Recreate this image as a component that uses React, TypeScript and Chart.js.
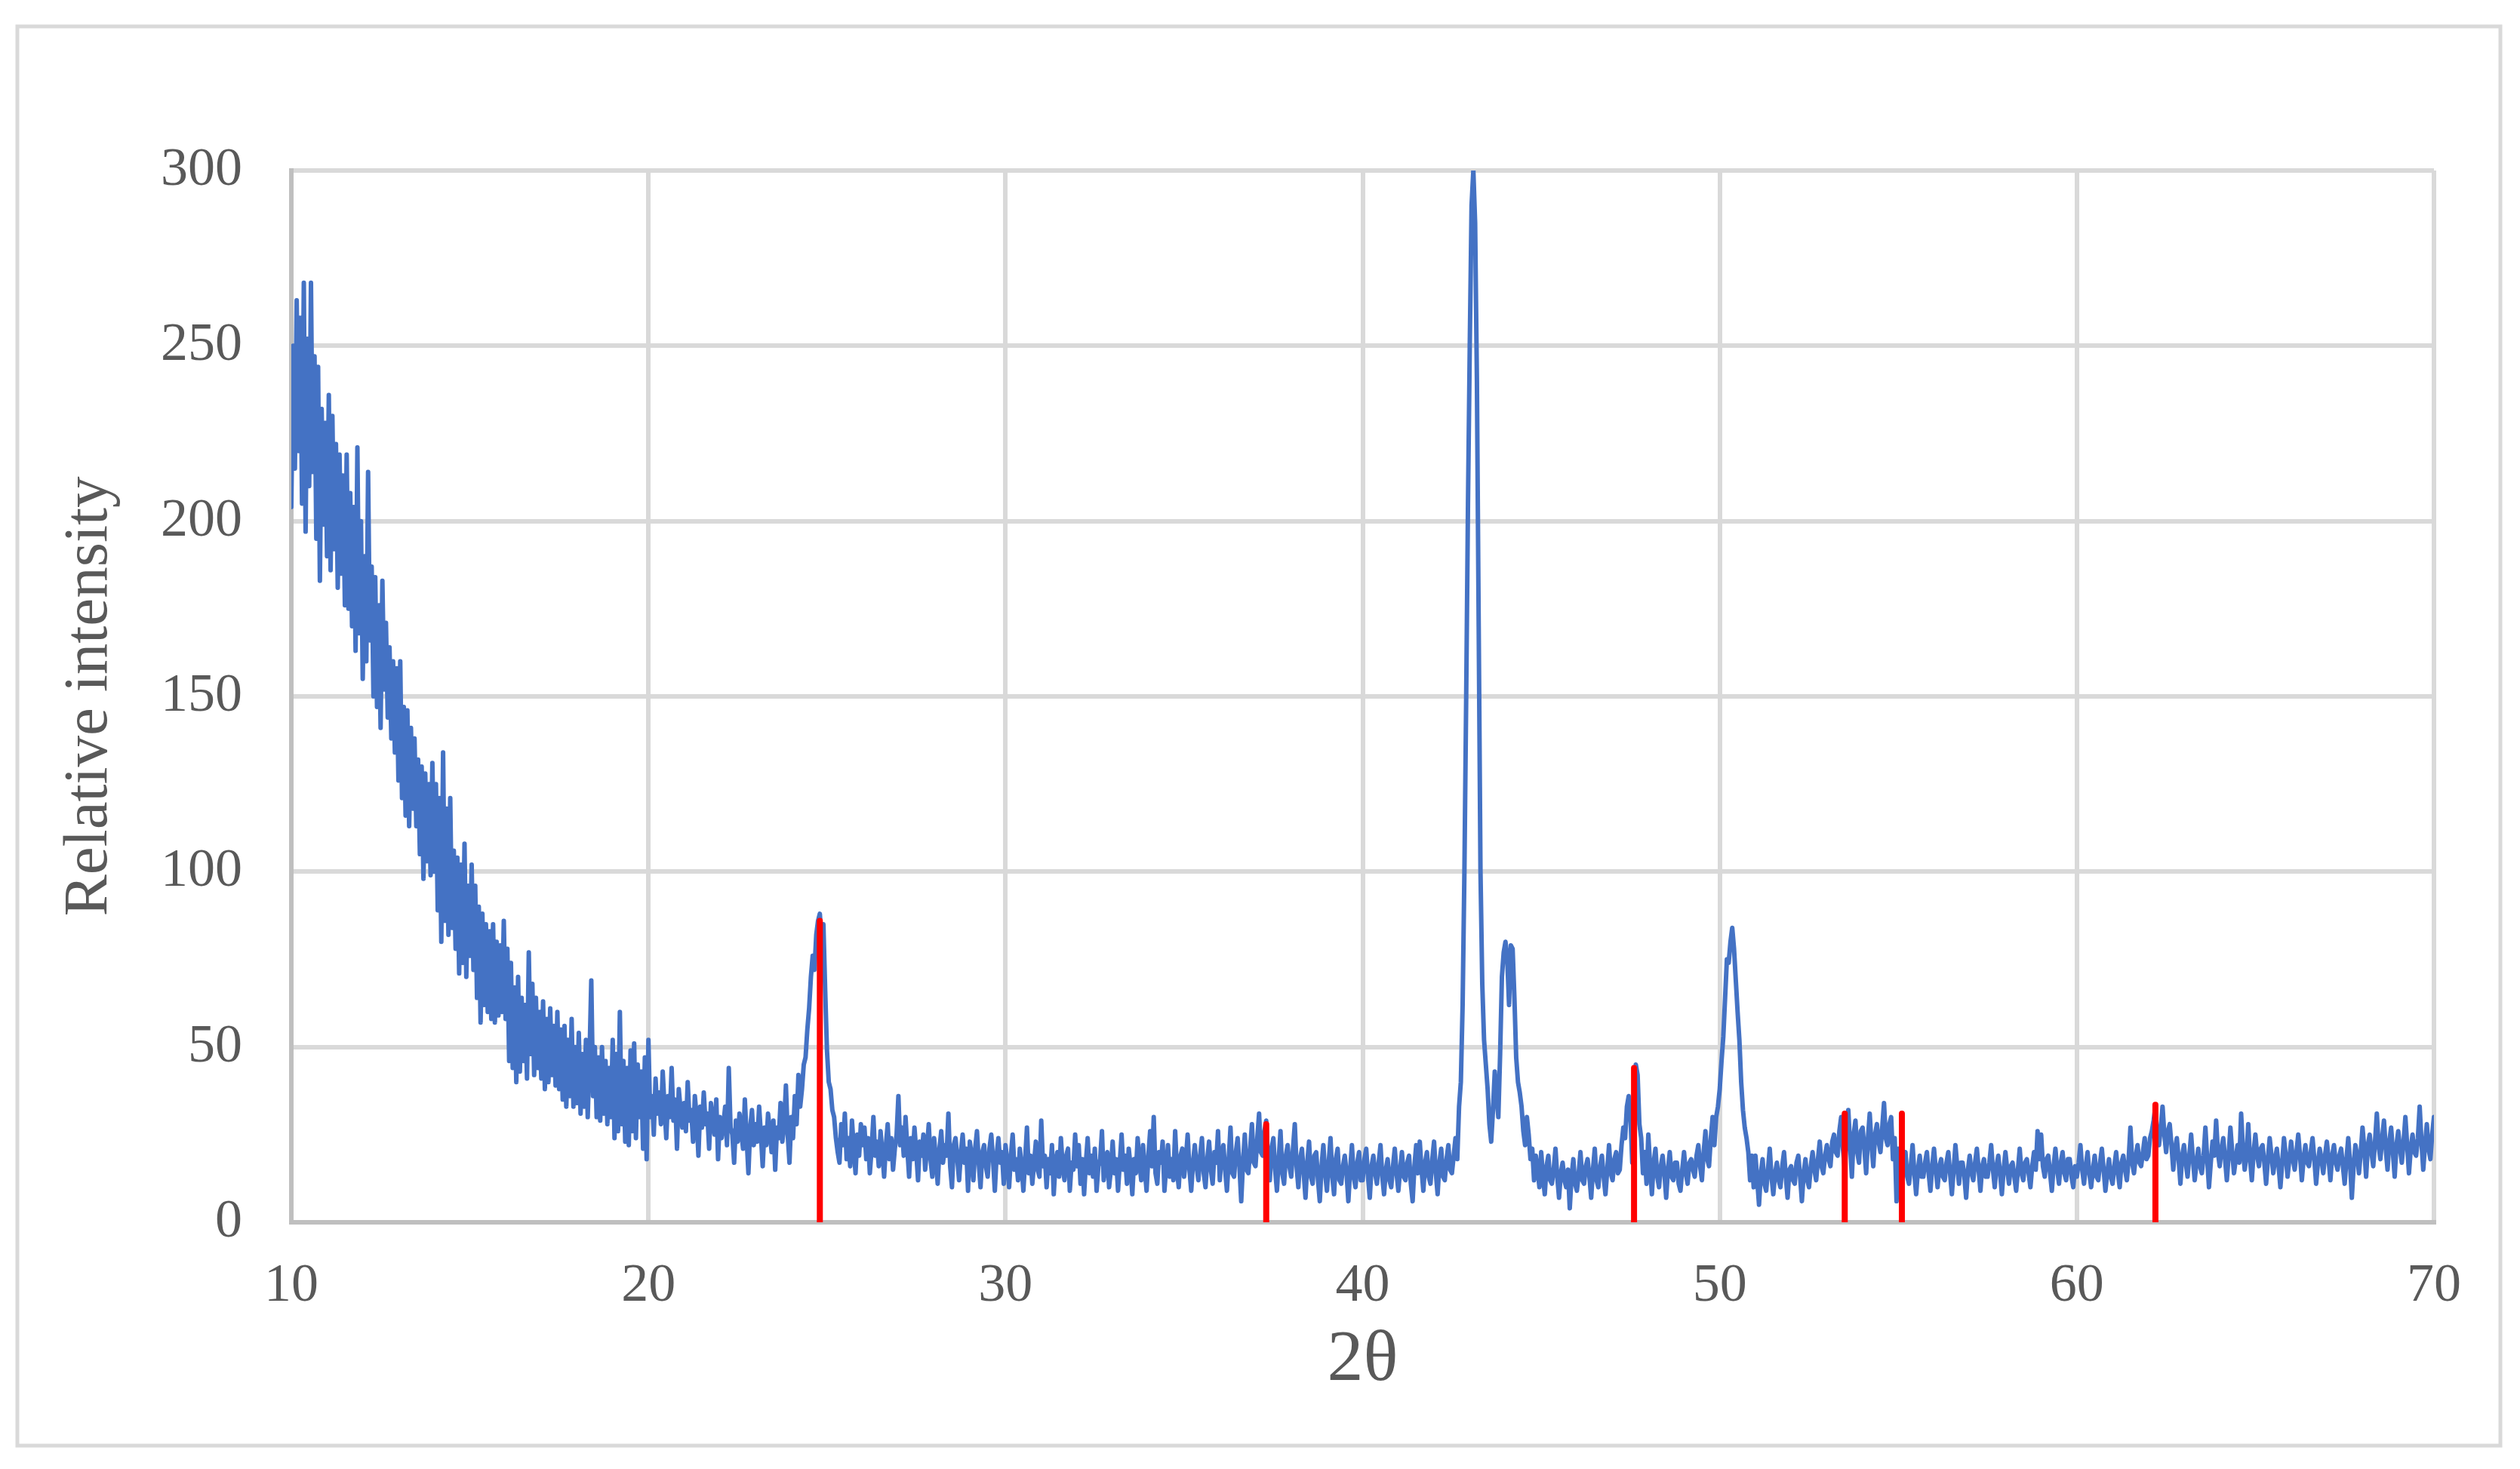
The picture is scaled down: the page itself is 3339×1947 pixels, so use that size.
import React, { useEffect, useRef } from "react";
import { Chart, registerables } from "chart.js";

Chart.register(...registerables);

// 2θ sampling of the pattern
const X_START = 10;
const X_STEP = 0.05;

// Relative intensity, 10.00 – 19.95
const seg10to20 = [
  204, 250, 215, 263, 220, 258, 205, 268, 197, 252, 210, 268, 214, 247, 195, 244, 183, 232, 199, 228,
  190, 236, 186, 230, 192, 222, 181, 219, 185, 213, 176, 219, 175, 208, 170, 204, 163, 221, 168, 200,
  155, 190, 160, 214, 166, 187, 150, 184, 147, 176, 141, 183, 152, 171, 144, 164, 138, 160, 134, 158,
  126, 160, 121, 147, 116, 146, 113, 141, 118, 138, 113, 132, 105, 130, 98, 128, 103, 125, 99, 131,
  100, 125, 89, 121, 80, 134, 86, 118, 82, 121, 84, 106, 78, 104, 71, 102, 74, 108, 70, 96,
  76, 102, 72, 96, 64, 90, 57, 88, 62, 85, 60, 83, 58, 85, 57, 80, 59, 79, 60, 86,
  58, 78, 46, 74, 44, 67, 40, 70, 43, 64, 46, 62, 41, 77, 48, 68, 42, 64, 44, 60,
  41, 63, 38, 58, 40, 61, 42, 56, 39, 60, 38, 55, 35, 56, 33, 52, 36, 58, 33, 50,
  34, 54, 31, 48, 33, 52, 30, 47, 69, 36, 50, 30, 47, 29, 50, 31, 46, 28, 44, 30,
  52, 24, 48, 26, 60, 28, 46, 23, 44, 22, 49, 26, 51, 24, 45, 30, 43, 21, 47, 18,
];
// 20.00 – 29.95
const seg20to30 = [
  52, 30, 36, 25, 41, 31, 37, 28, 43, 33, 24, 36, 30, 44, 29, 35, 21, 38, 32, 27,
  34, 26, 40, 29, 32, 23, 36, 30, 19, 33, 27, 37, 28, 31, 21, 34, 29, 25, 35, 18,
  30, 24, 28, 33, 22, 44, 27, 25, 17, 29, 23, 31, 26, 21, 35, 24, 14, 27, 32, 22,
  28, 23, 33, 25, 16, 27, 22, 31, 26, 20, 29, 15, 27, 24, 34, 23, 28, 39, 25, 17,
  30, 24, 36, 28, 42, 33, 38, 45, 47, 55, 61, 70, 76, 72, 82, 86, 88, 80, 85, 66,
  49, 40, 38, 32, 30, 24, 20, 17, 28, 22, 31, 18, 24, 16, 29, 21, 14, 25, 19, 28,
  22, 27, 18, 24, 14, 21, 30, 19, 23, 16, 26, 20, 13, 22, 28, 18, 24, 15, 21, 25,
  36, 22, 27, 19, 30, 21, 13, 24, 18, 27, 20, 12, 23, 19, 25, 15, 21, 28, 18, 13,
  24, 18, 11, 21, 26, 17, 22, 19, 31, 16, 10, 22, 24, 18, 12, 20, 25, 17, 21, 9,
  23, 19, 12, 21, 26, 17, 10, 20, 22, 16, 13, 21, 25, 18, 9, 19, 24, 17, 20, 11,
];
// 30.00 – 39.95
const seg30to40 = [
  22, 17, 10, 19, 25, 15, 18, 12, 21, 16, 9, 18, 27, 14, 19, 11, 17, 23, 15, 13,
  29, 16, 19, 10, 18, 14, 22, 8, 17, 20, 13, 24, 16, 12, 19, 21, 9, 17, 15, 25,
  16, 22, 11, 18, 8, 17, 24, 14, 19, 13, 21, 9, 16, 18, 26, 12, 17, 20, 10, 15,
  23, 14, 18, 9, 17, 25, 15, 19, 11, 21, 16, 8, 18, 14, 24, 17, 12, 22, 15, 9,
  19, 26, 16, 30, 14, 11, 20, 17, 23, 9, 16, 22, 13, 18, 12, 26, 15, 10, 19, 21,
  13, 18, 25, 15, 9, 17, 22, 16, 12, 19, 24, 14, 10, 18, 23, 15, 11, 20, 17, 26,
  12, 19, 22, 15, 9, 18, 27, 14, 13, 20, 24, 16, 6, 17, 25, 15, 14, 21, 28, 17,
  16, 24, 31, 20, 19, 26, 29, 18, 12, 21, 24, 15, 9, 18, 26, 14, 11, 19, 22, 16,
  13, 21, 28, 16, 10, 18, 21, 14, 7, 17, 23, 13, 11, 19, 20, 12, 6, 16, 22, 14,
  9, 17, 24, 13, 8, 18, 21, 12, 11, 16, 19, 14, 6, 15, 22, 13, 10, 17, 20, 12,
];
// 40.00 – 49.95
const seg40to50 = [
  12, 18, 21, 13, 7, 16, 19, 14, 11, 17, 22, 13, 8, 15, 18, 12, 10, 16, 21, 14,
  9, 15, 20, 13, 12, 17, 19, 11, 6, 16, 22, 14, 23, 15, 9, 17, 20, 13, 11, 18,
  23, 14, 8, 17, 21, 13, 12, 18, 22, 15, 14, 19, 24, 18, 33, 40, 62, 100, 150, 205,
  250, 290, 300, 285, 240, 170, 100, 68, 52, 45, 38, 28, 23, 32, 43, 36, 30, 48, 70, 77,
  80, 75, 62, 79, 78, 64, 47, 40, 37, 33, 26, 22, 30, 25, 18, 21, 12, 19, 15, 10,
  20, 13, 8, 16, 19, 12, 11, 15, 21, 13, 7, 14, 17, 12, 10, 15, 4, 13, 18, 11,
  9, 14, 20, 12, 11, 16, 18, 13, 7, 15, 21, 12, 10, 16, 19, 13, 8, 15, 22, 14,
  12, 18, 20, 14, 15, 22, 27, 24, 33, 36, 30, 17, 35, 45, 42, 28, 24, 14, 20, 11,
  25, 16, 8, 17, 21, 13, 10, 16, 19, 14, 7, 15, 20, 13, 12, 17, 17, 11, 9, 15,
  20, 14, 11, 17, 18, 15, 13, 19, 22, 16, 12, 20, 26, 18, 16, 24, 30, 22, 30, 33,
];
// 50.00 – 59.95
const seg50to60 = [
  38, 46, 53, 64, 75, 74, 80, 84, 78, 69, 60, 52, 40, 32, 27, 24, 20, 12, 19, 10,
  19, 12, 5, 14, 18, 11, 9, 15, 21, 13, 8, 14, 17, 12, 10, 16, 20, 13, 7, 15,
  16, 12, 11, 17, 19, 13, 6, 14, 18, 12, 10, 16, 20, 15, 12, 18, 23, 16, 14, 19,
  22, 18, 16, 23, 25, 20, 19, 26, 30, 21, 15, 24, 32, 22, 13, 25, 29, 20, 17, 26,
  27, 21, 14, 24, 31, 22, 16, 25, 28, 23, 20, 27, 34, 24, 22, 28, 30, 18, 24, 6,
  21, 15, 11, 17, 20, 13, 11, 16, 22, 14, 8, 15, 19, 13, 13, 17, 20, 14, 9, 16,
  21, 15, 10, 16, 18, 13, 12, 17, 20, 14, 8, 15, 22, 16, 11, 17, 17, 13, 7, 15,
  19, 14, 12, 17, 21, 15, 9, 16, 18, 13, 13, 17, 22, 15, 10, 16, 19, 14, 8, 15,
  20, 15, 11, 16, 17, 13, 9, 15, 21, 14, 12, 17, 18, 14, 10, 16, 20, 15, 26, 18,
  25, 16, 13, 18, 19, 14, 9, 16, 21, 15, 11, 17, 20, 14, 12, 18, 18, 13, 10, 16,
];
// 60.00 – 70.00
const seg60to70 = [
  13, 17, 22, 15, 11, 16, 20, 14, 10, 15, 19, 13, 12, 17, 21, 15, 9, 14, 18, 13,
  11, 16, 20, 14, 10, 17, 19, 15, 12, 18, 27, 17, 14, 19, 22, 17, 16, 20, 24, 18,
  19, 24, 26, 29, 33, 24, 22, 27, 33, 25, 20, 26, 28, 22, 15, 21, 24, 18, 11, 19,
  22, 17, 13, 19, 25, 18, 12, 17, 21, 16, 14, 19, 27, 18, 10, 17, 23, 19, 29, 20,
  16, 21, 24, 18, 12, 19, 27, 20, 14, 18, 22, 17, 31, 21, 15, 19, 28, 18, 12, 20,
  25, 19, 16, 21, 22, 17, 11, 18, 24, 19, 14, 18, 21, 16, 10, 17, 24, 19, 13, 18,
  23, 18, 15, 20, 25, 19, 12, 18, 22, 17, 16, 20, 24, 18, 11, 17, 21, 18, 14, 19,
  23, 18, 12, 19, 22, 17, 15, 19, 21, 16, 11, 18, 24, 17, 7, 16, 22, 19, 14, 20,
  27, 21, 13, 22, 25, 20, 16, 23, 31, 22, 18, 24, 29, 21, 15, 23, 27, 20, 13, 22,
  26, 21, 17, 23, 30, 22, 14, 21, 25, 20, 19, 24, 33, 23, 15, 22, 28, 21, 18, 25,
  30,
];

// Reference (standard) peak positions and heights
const refPeakPositions = [24.8, 37.3, 47.6, 53.5, 55.1, 62.2];
const refPeakHeights = [86, 28, 44, 31, 31, 33.5];

// Axis tick values
const xTickValues = [10, 20, 30, 40, 50, 60, 70];
const yTickValues = [0, 50, 100, 150, 200, 250, 300];

const X_TITLE = "2θ";
const Y_TITLE = "Relative intensity";

const FONT = "'Liberation Serif', 'Times New Roman', serif";
const TEXT = "#595959";
const GRID = "#D9D9D9";
const AXIS = "#BFBFBF";

const W = 3339;
const H = 1947;

export default function App() {
  const canvasRef = useRef<HTMLCanvasElement | null>(null);

  useEffect(() => {
    document.body.style.margin = "0";
    const canvas = canvasRef.current;
    if (!canvas) return;

    const intensity = [
      ...seg10to20,
      ...seg20to30,
      ...seg30to40,
      ...seg40to50,
      ...seg50to60,
      ...seg60to70,
    ];
    const pattern = intensity.map((y, i) => ({
      x: Math.round((X_START + i * X_STEP) * 100) / 100,
      y,
    }));

    const refLines: { x: number; y: number | null }[] = [];
    refPeakPositions.forEach((x, i) => {
      refLines.push({ x, y: 0 }, { x, y: refPeakHeights[i] }, { x, y: null });
    });

    const outerFrame = {
      id: "outerFrame",
      beforeDraw(chart: any) {
        const c = chart.ctx;
        c.save();
        c.fillStyle = "#ffffff";
        c.fillRect(0, 0, chart.width, chart.height);
        c.strokeStyle = GRID;
        c.lineWidth = 5;
        c.strokeRect(23, 35, 3290, 1881);
        c.restore();
      },
    };

    const chart = new Chart(canvas, {
      type: "line",
      data: {
        datasets: [
          {
            label: "Reference",
            data: refLines as any,
            borderColor: "#FF0000",
            backgroundColor: "#FF0000",
            borderWidth: 8,
            borderCapStyle: "round",
            pointRadius: 0,
            spanGaps: false,
            order: 0,
          },
          {
            label: "Sample",
            data: pattern,
            borderColor: "#4472C4",
            backgroundColor: "#4472C4",
            borderWidth: 6,
            borderJoinStyle: "round",
            borderCapStyle: "round",
            pointRadius: 0,
            tension: 0,
            order: 1,
          },
        ],
      },
      options: {
        responsive: false,
        devicePixelRatio: 1,
        animation: false,
        events: [],
        layout: { padding: { top: 226, right: 114, left: 0, bottom: 0 } },
        plugins: {
          legend: { display: false },
          tooltip: { enabled: false },
          title: { display: false },
        },
        scales: {
          x: {
            type: "linear",
            min: 10,
            max: 70,
            afterBuildTicks: (s: any) => {
              s.ticks = xTickValues.map((v) => ({ value: v }));
            },
            afterFit: (s: any) => {
              s.height = H - 1620;
            },
            ticks: {
              font: { family: FONT, size: 72 },
              color: TEXT,
              padding: 42,
              maxRotation: 0,
              autoSkip: false,
            },
            grid: { color: GRID, lineWidth: 6, drawTicks: false },
            border: { color: AXIS, width: 6 },
            title: {
              display: true,
              text: X_TITLE,
              color: TEXT,
              font: { family: FONT, size: 96 },
              padding: { top: 0, bottom: 86 },
            },
          },
          y: {
            type: "linear",
            min: 0,
            max: 300,
            afterBuildTicks: (s: any) => {
              s.ticks = yTickValues.map((v) => ({ value: v }));
            },
            afterFit: (s: any) => {
              s.width = 386;
            },
            ticks: {
              font: { family: FONT, size: 72 },
              color: TEXT,
              padding: 65,
            },
            grid: { color: GRID, lineWidth: 6, drawTicks: false },
            border: { color: AXIS, width: 6 },
            title: {
              display: true,
              text: Y_TITLE,
              color: TEXT,
              font: { family: FONT, size: 83 },
              padding: { top: 69, bottom: 0 },
            },
          },
        },
      },
      plugins: [outerFrame],
    } as any);

    return () => chart.destroy();
  }, []);

  return (
    <div style={{ width: W, height: H, position: "relative" }}>
      <canvas
        ref={canvasRef}
        width={W}
        height={H}
        style={{ display: "block", width: W, height: H }}
      />
    </div>
  );
}
